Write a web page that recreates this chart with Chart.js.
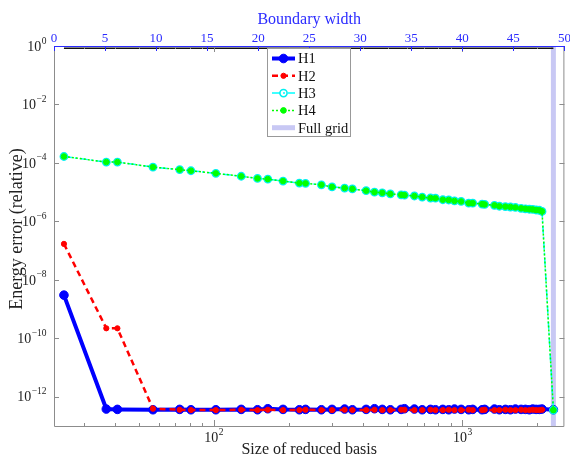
<!DOCTYPE html>
<html>
<head>
<meta charset="utf-8">
<script src="https://cdn.jsdelivr.net/npm/chart.js@4.4.0/dist/chart.umd.min.js"></script>
<style>
  html, body { margin: 0; padding: 0; background: #fff; }
  canvas { display: block; }
</style>
</head>
<body>
<canvas id="errChart" width="570" height="458"></canvas>
<script>
// reduced basis size for each boundary width (last entry = full grid)
const basisSize = [25, 37, 41, 57, 73, 81, 102, 129, 150, 165, 190, 221, 234, 271, 299, 336, 361, 410, 443, 476,
  513, 567, 585, 641, 689, 744, 779, 834, 881, 929, 988, 1060, 1100, 1200, 1229, 1345, 1408, 1488, 1559, 1633,
  1721, 1791, 1858, 1916, 1977, 2038, 2089, 2321];

const errH1 = [3.0e-9, 3.8e-13, 3.7e-13, 3.6e-13, 3.7e-13, 3.6e-13, 3.6e-13, 3.7e-13, 3.6e-13, 3.9e-13,
  3.7e-13, 3.6e-13, 3.7e-13, 3.6e-13, 3.7e-13, 3.8e-13, 3.6e-13, 3.7e-13, 3.9e-13, 3.7e-13,
  3.6e-13, 3.7e-13, 3.9e-13, 3.8e-13, 3.6e-13, 3.7e-13, 3.6e-13, 3.7e-13, 3.6e-13, 3.8e-13,
  3.7e-13, 3.6e-13, 3.7e-13, 3.6e-13, 3.7e-13, 3.8e-13, 3.6e-13, 3.7e-13, 3.6e-13, 3.8e-13,
  3.7e-13, 3.7e-13, 3.6e-13, 3.8e-13, 3.7e-13, 3.7e-13, 3.8e-13, 3.6e-13];

const errH2 = [1.7e-7, 2.2e-10, 2.2e-10, 3.9e-13, 3.6e-13, 3.5e-13, 3.5e-13, 3.6e-13, 3.5e-13, 3.6e-13,
  3.5e-13, 3.5e-13, 3.6e-13, 3.5e-13, 3.5e-13, 3.6e-13, 3.5e-13, 3.5e-13, 3.6e-13, 3.5e-13,
  3.5e-13, 3.6e-13, 3.6e-13, 3.5e-13, 3.5e-13, 3.6e-13, 3.5e-13, 3.5e-13, 3.6e-13, 3.5e-13,
  3.5e-13, 3.6e-13, 3.5e-13, 3.5e-13, 3.6e-13, 3.5e-13, 3.5e-13, 3.6e-13, 3.5e-13, 3.5e-13,
  3.6e-13, 3.5e-13, 3.5e-13, 3.6e-13, 3.5e-13, 3.5e-13, 3.6e-13, 3.5e-13];

const errH3 = [1.66e-4, 1.07e-4, 1.07e-4, 7.2e-5, 5.9e-5, 5.4e-5, 4.4e-5, 3.5e-5, 2.95e-5, 2.8e-5,
  2.4e-5, 2.04e-5, 2.0e-5, 1.78e-5, 1.51e-5, 1.38e-5, 1.29e-5, 1.12e-5, 1.0e-5, 9.5e-6,
  8.7e-6, 8.1e-6, 7.9e-6, 7.4e-6, 6.8e-6, 6.3e-6, 6.2e-6, 5.5e-6, 5.4e-6, 5.0e-6,
  4.8e-6, 4.2e-6, 4.2e-6, 3.9e-6, 3.8e-6, 3.55e-6, 3.3e-6, 3.2e-6, 3.1e-6, 3.0e-6,
  2.8e-6, 2.7e-6, 2.6e-6, 2.57e-6, 2.45e-6, 2.4e-6, 2.2e-6, 3.5e-13];

const errH4 = [1.66e-4, 1.07e-4, 1.07e-4, 7.2e-5, 5.9e-5, 5.4e-5, 4.4e-5, 3.5e-5, 2.95e-5, 2.8e-5,
  2.4e-5, 2.04e-5, 2.0e-5, 1.78e-5, 1.51e-5, 1.38e-5, 1.29e-5, 1.12e-5, 1.0e-5, 9.5e-6,
  8.7e-6, 8.1e-6, 7.9e-6, 7.4e-6, 6.8e-6, 6.3e-6, 6.2e-6, 5.5e-6, 5.4e-6, 5.0e-6,
  4.8e-6, 4.2e-6, 4.2e-6, 3.9e-6, 3.8e-6, 3.55e-6, 3.3e-6, 3.2e-6, 3.1e-6, 3.0e-6,
  2.8e-6, 2.7e-6, 2.6e-6, 2.57e-6, 2.45e-6, 2.4e-6, 2.2e-6, 3.5e-13];

const fullGridSize = 2321;
const fullGridRange = [1e-13, 1];
const baseLevel = 0.83;

const yTickExps = [0, -2, -4, -6, -8, -10, -12];
const xTickExps = [2, 3];
const xMinorTicks = [30, 40, 50, 60, 70, 80, 90, 200, 300, 400, 500, 600, 700, 800, 900, 2000];
const widthTicks = [0, 5, 10, 15, 20, 25, 30, 35, 40, 45, 50];

const SERIF = '"Liberation Serif", "Times New Roman", serif';
const AXIS_GRAY = '#8c8c8c';
const TOP_BLUE = '#2b2bff';

const pts = vals => basisSize.map((n, i) => ({ x: n, y: vals[i] }));

const datasets = [
  {
    label: 'Full grid',
    data: fullGridRange.map(v => ({ x: fullGridSize, y: v })),
    borderColor: '#c8c8f4', borderWidth: 5, pointRadius: 0, order: 10
  },
  {
    label: 'base',
    data: [{ x: basisSize[0], y: baseLevel }, { x: fullGridSize, y: baseLevel }],
    borderColor: '#111', borderWidth: 1.5, pointRadius: 0, order: 9
  },
  {
    label: 'H1', data: pts(errH1),
    borderColor: '#0000ff', borderWidth: 4, pointRadius: 4.3,
    pointBackgroundColor: '#0000ff', pointBorderColor: '#0000ff', pointBorderWidth: 1, order: 4
  },
  {
    label: 'H2', data: pts(errH2),
    borderColor: '#ff0000', borderWidth: 2.5, borderDash: [6, 4], pointRadius: 2.6,
    pointBackgroundColor: '#ff0000', pointBorderColor: '#ff0000', pointBorderWidth: 1, order: 3
  },
  {
    label: 'H3', data: pts(errH3),
    borderColor: '#00ffff', borderWidth: 1.5, borderDash: [8, 3, 2, 3], pointRadius: 3.6,
    pointBackgroundColor: 'rgba(0,0,0,0)', pointBorderColor: '#00f0f0', pointBorderWidth: 1.6, order: 2
  },
  {
    label: 'H4', data: pts(errH4),
    borderColor: '#00ff00', borderWidth: 1.5, borderDash: [2, 2], pointRadius: 2.8,
    pointBackgroundColor: '#00ff00', pointBorderColor: '#00ff00', pointBorderWidth: 1, order: 1
  }
];

function drawPow(ctx, x, y, exp, align, base, sup) {
  const b = '10', e = exp < 0 ? '\u2212' + Math.abs(exp) : String(exp);
  ctx.font = base + 'px ' + SERIF;
  const wb = ctx.measureText(b).width;
  ctx.font = sup + 'px ' + SERIF;
  const we = ctx.measureText(e).width;
  let x0 = x;
  if (align === 'right') x0 = x - wb - we;
  if (align === 'center') x0 = x - (wb + we) / 2;
  ctx.textAlign = 'left';
  ctx.textBaseline = 'middle';
  ctx.font = base + 'px ' + SERIF;
  ctx.fillText(b, x0, y);
  ctx.font = sup + 'px ' + SERIF;
  ctx.fillText(e, x0 + wb + 0.5, y - 6);
}

// frame, inward ticks and labels in the matlab look
const axesPlugin = {
  id: 'axesLook',
  afterDatasetsDraw(chart) {
    const { ctx, chartArea: a, scales } = chart;
    const xs = scales.x, ys = scales.y, xt = scales.x2;
    ctx.save();
    ctx.lineWidth = 1;
    ctx.strokeStyle = AXIS_GRAY;
    ctx.beginPath();
    ctx.moveTo(a.left + 0.5, a.top); ctx.lineTo(a.left + 0.5, a.bottom + 0.5);
    ctx.lineTo(a.right - 0.5, a.bottom + 0.5); ctx.lineTo(a.right - 0.5, a.top);
    ctx.stroke();

    ctx.beginPath();
    yTickExps.forEach(e => {
      const py = Math.round(ys.getPixelForValue(Math.pow(10, e))) + 0.5;
      ctx.moveTo(a.left, py); ctx.lineTo(a.left + 5, py);
      ctx.moveTo(a.right, py); ctx.lineTo(a.right - 5, py);
    });
    xTickExps.forEach(e => {
      const px = Math.round(xs.getPixelForValue(Math.pow(10, e))) + 0.5;
      ctx.moveTo(px, a.bottom); ctx.lineTo(px, a.bottom - 6);
      ctx.moveTo(px, a.top); ctx.lineTo(px, a.top + 6);
    });
    xMinorTicks.forEach(v => {
      const px = Math.round(xs.getPixelForValue(v)) + 0.5;
      ctx.moveTo(px, a.bottom); ctx.lineTo(px, a.bottom - 3);
      ctx.moveTo(px, a.top); ctx.lineTo(px, a.top + 3);
    });
    ctx.stroke();

    // top axis (boundary width)
    ctx.strokeStyle = TOP_BLUE;
    ctx.beginPath();
    ctx.moveTo(a.left, a.top + 0.5); ctx.lineTo(a.right, a.top + 0.5);
    widthTicks.forEach(w => {
      const px = Math.round(xt.getPixelForValue(w)) + 0.5;
      ctx.moveTo(px, a.top); ctx.lineTo(px, a.top + 5);
    });
    ctx.stroke();

    ctx.fillStyle = TOP_BLUE;
    ctx.font = '13px ' + SERIF;
    ctx.textAlign = 'center';
    ctx.textBaseline = 'middle';
    widthTicks.forEach(w => ctx.fillText(String(w), xt.getPixelForValue(w), 39));
    ctx.font = '16px ' + SERIF;
    ctx.fillText('Boundary width', (a.left + a.right) / 2, 20);

    ctx.fillStyle = '#222';
    yTickExps.forEach(e => drawPow(ctx, 46, ys.getPixelForValue(Math.pow(10, e)) + 1, e, 'right', 14, 9.5));
    xTickExps.forEach(e => drawPow(ctx, xs.getPixelForValue(Math.pow(10, e)), 438, e, 'center', 14, 9.5));

    ctx.font = '16px ' + SERIF;
    ctx.textAlign = 'center';
    ctx.textBaseline = 'middle';
    ctx.fillText('Size of reduced basis', (a.left + a.right) / 2, 450);
    ctx.save();
    ctx.translate(17, 229);
    ctx.rotate(-Math.PI / 2);
    ctx.font = '18px ' + SERIF;
    ctx.fillText('Energy error (relative)', 0, 0);
    ctx.restore();
    ctx.restore();
  }
};

// boxed legend with line samples and markers taken from the datasets
const legendPlugin = {
  id: 'boxLegend',
  afterDraw(chart) {
    const { ctx } = chart;
    const items = ['H1', 'H2', 'H3', 'H4', 'Full grid'];
    const box = { x: 267, y: 48, w: 84, h: 89 };
    ctx.save();
    ctx.fillStyle = '#fff';
    ctx.fillRect(box.x, box.y, box.w, box.h);
    ctx.strokeStyle = '#999';
    ctx.lineWidth = 1;
    ctx.strokeRect(box.x + 0.5, box.y + 0.5, box.w - 1, box.h - 1);
    items.forEach((name, i) => {
      const ds = chart.data.datasets.find(d => d.label === name);
      const cy = box.y + 10.5 + i * 17.3;
      const x0 = box.x + 5, x1 = box.x + 28;
      ctx.setLineDash(ds.borderDash || []);
      ctx.strokeStyle = ds.borderColor;
      ctx.lineWidth = ds.borderWidth;
      ctx.beginPath();
      ctx.moveTo(x0, cy); ctx.lineTo(x1, cy);
      ctx.stroke();
      ctx.setLineDash([]);
      if (ds.pointRadius > 0) {
        ctx.beginPath();
        ctx.arc((x0 + x1) / 2, cy, ds.pointRadius, 0, Math.PI * 2);
        ctx.fillStyle = ds.pointBackgroundColor;
        ctx.fill();
        ctx.lineWidth = ds.pointBorderWidth;
        ctx.strokeStyle = ds.pointBorderColor;
        ctx.stroke();
      }
      ctx.fillStyle = '#111';
      ctx.font = '14.5px ' + SERIF;
      ctx.textAlign = 'left';
      ctx.textBaseline = 'middle';
      ctx.fillText(name, box.x + 31, cy + 1);
    });
    ctx.restore();
  }
};

new Chart(document.getElementById('errChart'), {
  type: 'line',
  data: { datasets },
  options: {
    responsive: false,
    animation: false,
    devicePixelRatio: 1,
    layout: { padding: { left: 0, right: 5, top: 0, bottom: 0 } },
    plugins: { legend: { display: false }, tooltip: { enabled: false } },
    elements: { line: { tension: 0 } },
    scales: {
      x: {
        type: 'logarithmic', position: 'bottom', min: 22.8, max: 2570,
        ticks: { display: false }, grid: { display: false }, border: { display: false },
        afterFit: s => { s.height = 32; }
      },
      x2: {
        type: 'linear', position: 'top', min: 0, max: 50,
        ticks: { display: false }, grid: { display: false }, border: { display: false },
        afterFit: s => { s.height = 46; }
      },
      y: {
        type: 'logarithmic', min: 1e-13, max: 1,
        ticks: { display: false }, grid: { display: false }, border: { display: false },
        afterFit: s => { s.width = 54; }
      }
    }
  },
  plugins: [axesPlugin, legendPlugin]
});
</script>
</body>
</html>
